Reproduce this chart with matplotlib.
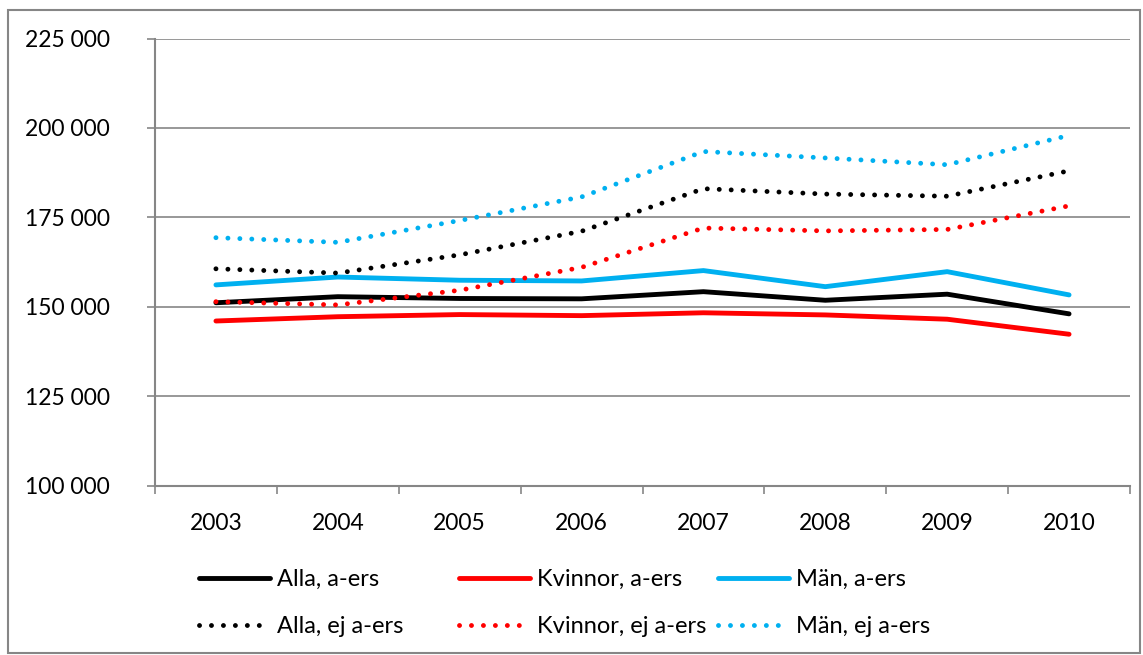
import matplotlib
matplotlib.use("Agg")
import matplotlib.pyplot as plt
from matplotlib.patches import Rectangle

years = ["2003", "2004", "2005", "2006", "2007", "2008", "2009", "2010"]
alla_a = [151100, 152800, 152300, 152200, 154200, 151800, 153500, 148000]
kvinnor_a = [146000, 147200, 147800, 147500, 148300, 147700, 146500, 142300]
man_a = [156100, 158300, 157400, 157200, 160100, 155600, 159800, 153300]
alla_ej = [160600, 159400, 164500, 171100, 183000, 181500, 180900, 188000]
kvinnor_ej = [151400, 150500, 154600, 161000, 172000, 171200, 171600, 178200]
man_ej = [169300, 168000, 174100, 180700, 193400, 191600, 189700, 197900]
yticks = [100000, 125000, 150000, 175000, 200000, 225000]

W, H = 1143, 655
plt.rcParams['font.family'] = ['Lato', 'DejaVu Sans']
fig = plt.figure(figsize=(W / 100, H / 100), dpi=100)
ax = fig.add_axes([155 / W, 1 - 485.5 / H, (1130 - 155) / W, (485.5 - 38.5) / H])

grey = '#868686'
lw = 3.5
dot = (0, (0.01, 2.45))
x = list(range(len(years)))
l1, = ax.plot(x, alla_a, color='#000000', lw=lw, label='Alla, a-ers', solid_capstyle='round')
l2, = ax.plot(x, kvinnor_a, color='#FF0000', lw=lw, label='Kvinnor, a-ers', solid_capstyle='round')
l3, = ax.plot(x, man_a, color='#00B0F0', lw=lw, label='Män, a-ers', solid_capstyle='round')
l4, = ax.plot(x, alla_ej, color='#000000', lw=lw, ls=dot, dash_capstyle='round', label='Alla, ej a-ers')
l5, = ax.plot(x, kvinnor_ej, color='#FF0000', lw=lw, ls=dot, dash_capstyle='round', label='Kvinnor, ej a-ers')
l6, = ax.plot(x, man_ej, color='#00B0F0', lw=lw, ls=dot, dash_capstyle='round', label='Män, ej a-ers')

ax.set_xlim(-0.5, len(years) - 0.5)
ax.set_ylim(yticks[0], yticks[-1])
ax.set_yticks(yticks)
ax.set_yticklabels([f"{v:,}".replace(",", " ") for v in yticks])
ax.set_xticks(x)
ax.set_xticklabels(years)
ax.set_xticks([i - 0.5 for i in range(len(years) + 1)], minor=True)
ax.tick_params(axis='x', which='major', length=0, pad=19.5, labelsize=16.5)
ax.tick_params(axis='x', which='minor', length=5.8, width=1.2, color=grey, direction='out')
ax.tick_params(axis='y', which='major', length=5.8, width=1.2, color=grey, pad=26.6, labelsize=16.5)
ax.yaxis.grid(True, color=grey, lw=1.2)
ax.set_axisbelow(True)
for s in ['top', 'right']:
    ax.spines[s].set_visible(False)
for s in ['left', 'bottom']:
    ax.spines[s].set_color(grey)
    ax.spines[s].set_linewidth(1.5)

cols = [(199, [l1, l4]), (459, [l2, l5]), (718, [l3, l6])]
for xpx, hs in cols:
    leg = fig.legend(handles=hs, loc='upper left', bbox_to_anchor=(xpx / W, 1 - 569 / H),
                     frameon=False, fontsize=17, handlelength=3.0, handletextpad=0.3,
                     labelspacing=1.1, borderpad=0, borderaxespad=0)
    for t in leg.get_texts():
        t.set_color('#000000')

fig.patches.append(Rectangle((8 / W, 2 / H), (1140 - 8) / W, (653 - 10) / H, transform=fig.transFigure,
                             fill=False, edgecolor=grey, lw=1.5))
fig.savefig('out.png', dpi=100, facecolor='white')
